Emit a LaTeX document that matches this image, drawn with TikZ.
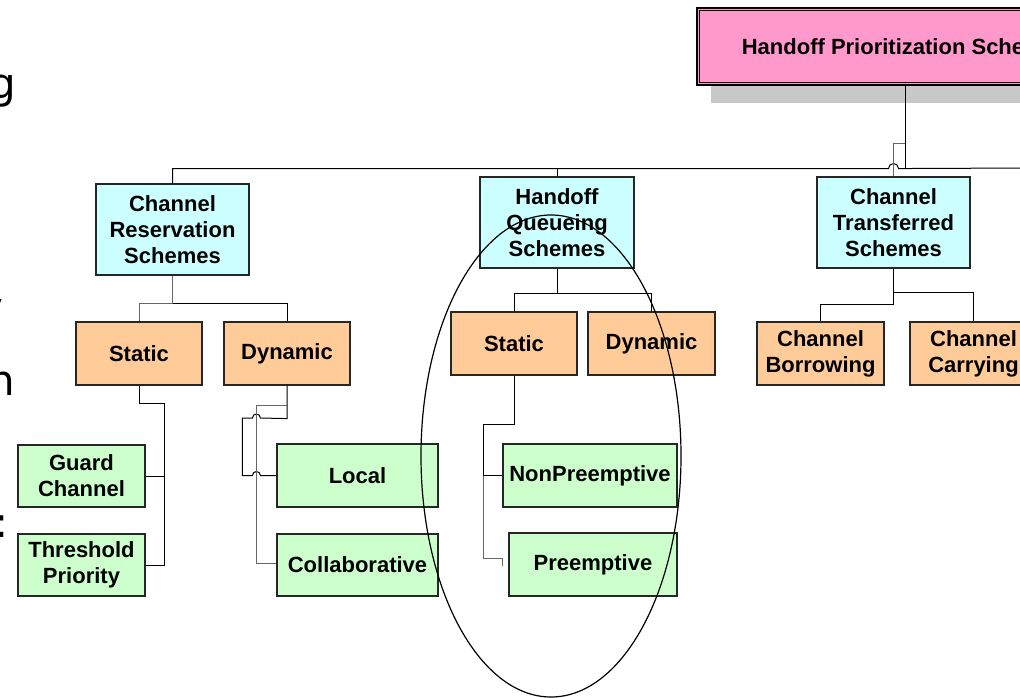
\documentclass[tikz,border=0pt]{standalone}
\usepackage{fontspec}
\setmainfont{Liberation Sans}
\newfontfamily\fragfont{DejaVu Sans}
\usetikzlibrary{calc,shapes.geometric}
\definecolor{cyanb}{HTML}{CCFFFF}
\definecolor{orangeb}{HTML}{FFCC99}
\definecolor{greenb}{HTML}{CCFFCC}
\definecolor{pinkb}{HTML}{FF99CC}
\definecolor{shadowg}{HTML}{C8C8C8}
\begin{document}
\begin{tikzpicture}[x=0.75pt,y=-0.75pt,
  box/.style={draw=black!85, line width=0.9pt, inner sep=0pt, align=center,
    font=\fontsize{16.5}{19.5}\selectfont\bfseries},
  bw/.style={minimum width=#1*0.75pt},
  bh/.style={minimum height=#1*0.75pt},
  conn/.style={draw=black, line width=0.75pt},
  conng/.style={draw=black!60, line width=0.75pt},
  frg/.style={font=\fragfont\fontsize{31.5}{36}\selectfont, inner sep=0pt}
]
\useasboundingbox (0,0) rectangle (1020,698);
\clip (0,0) rectangle (1020,698);
\fill[white] (0,0) rectangle (1020,698);

% text fragments at the left edge
\node[frg, anchor=base east] (fg) at (16,99) {g};
\node[frg, anchor=base east] (fy) at (3.5,323) {y};
\node[frg, anchor=base east] (fn) at (15,395) {n};
\node[frg, anchor=base west] (fc) at (-6,537) {:};

% root with shadow
\node[box, draw=none, bw=416, bh=77] (root) at (905,46.5) {\phantom{X}};
\fill[shadowg] ($(root.north west)+(15,15)$) rectangle ($(root.south east)+(15,17)$);
\node[box, fill=pinkb, draw=black, line width=0.8pt, bw=416, bh=77] (root) at (905,46.5) {Handoff Prioritization Schemes};
\draw[black, line width=0.8pt] ($(root.north west)+(3,3)$) rectangle ($(root.south east)+(-3,-3)$);

% level 2
\node[box, fill=cyanb, bw=153, bh=91] (crs) at (172.5,229.5) {Channel\\Reservation\\Schemes};
\node[box, fill=cyanb, bw=154, bh=91] (hqs) at (557,222.5) {Handoff\\Queueing\\Schemes};
\node[box, fill=cyanb, bw=153, bh=91] (cts) at (893.5,222.5) {Channel\\Transferred\\Schemes};

% level 3
\node[box, fill=orangeb, bw=126, bh=63] (s1) at (139,353.5) {Static};
\node[box, fill=orangeb, bw=126, bh=63] (d1) at (287,353.5) {Dynamic};
\node[box, fill=orangeb, bw=126, bh=63] (s2) at (514,343.5) {Static};
\node[box, fill=orangeb, bw=127, bh=63] (d2) at (651.5,343.5) {Dynamic};
\node[box, fill=orangeb, bw=127, bh=63] (cb) at (820.5,353.5) {Channel\\Borrowing};
\node[box, fill=orangeb, bw=127, bh=63] (cc) at (973.5,353.5) {Channel\\Carrying};

% level 4
\node[box, fill=greenb, bw=127, bh=62] (gc) at (81.5,476) {Guard\\Channel};
\node[box, fill=greenb, bw=127, bh=62] (tp) at (81.5,565) {Threshold\\Priority};
\node[box, fill=greenb, bw=161, bh=63] (loc) at (357.5,475.5) {Local};
\node[box, fill=greenb, bw=161, bh=62] (col) at (357.5,565) {Collaborative};
\node[box, fill=greenb, bw=174, bh=63] (np) at (590,475.5) {NonPreemptive};
\node[box, fill=greenb, bw=168, bh=63] (pre) at (593,564.5) {Preemptive};

% top bus
\coordinate (rj) at ($(root.south)+(0,83)$);
\coordinate (busR) at (1030,168);
\draw[conn] (root.south) -- (rj);
\draw[conn] (crs.north) |- ($(cts.north |- rj)+(-5,0)$)
  arc[start angle=180, end angle=360, radius=5] -- (rj) -- (busR);
\draw[conn] (hqs.north) -- (hqs.north |- rj);
\draw[conng] (cts.north) |- ($(root.south)+(0,58)$);

% channel reservation subtree
\coordinate (cr1) at ($(crs.south)+(0,28)$);
\draw[conng] (crs.south) -- (cr1) -| (s1.north);
\draw[conn] (cr1) -| (d1.north);
\coordinate (sv) at ($(gc.east)+(19,0)$);
\draw[conn] (s1.south) -- ++(0,18) -| (sv) |- (tp.east);
\draw[conn] (gc.east) -- (sv);

% dynamic (left) subtree
\draw[conn] (d1.south) -- ++(0,33) -- ($(loc.west |- 0,418)+(-16,0)$)
  arc[start angle=0, end angle=-180, radius=4]
  -- ($(loc.west |- 0,418)+(-34,0)$) -- ($(loc.west)+(-34,0)$)
  -- ($(loc.west)+(-24,0)$) arc[start angle=180, end angle=360, radius=4]
  -- (loc.west);
\draw[conng] ($(d1.south)+(0,20)$) -| ($(col.west)+(-20,-2)$) -- ($(col.west)+(0,-2)$);

% handoff queueing subtree
\coordinate (hq1) at ($(hqs.south)+(0,25)$);
\draw[conn] (hqs.south) -- (hq1) -| (s2.north);
\draw[conn] (hq1) -| (d2.north);
\draw[conn] (s2.south) -- ++(0,49) -| ($(np.west)+(-19,0)$) -- (np.west);
\draw[conng] ($(np.west)+(-19,0)$) |- ($(pre.west)+(-6,-6)$) -- ($(pre.west)+(-6,1)$);

% channel transferred subtree
\draw[conn] (cts.south) -- ++(0,36) -| (cb.north);
\draw[conn] ($(cts.south)+(0,24)$) -| (cc.north);

% highlight ellipse
\node[draw=black, ellipse, line width=0.9pt, minimum width=260*0.75pt,
  minimum height=482*0.75pt, inner sep=0pt] (focus) at (551,456) {};
\end{tikzpicture}
\end{document}
